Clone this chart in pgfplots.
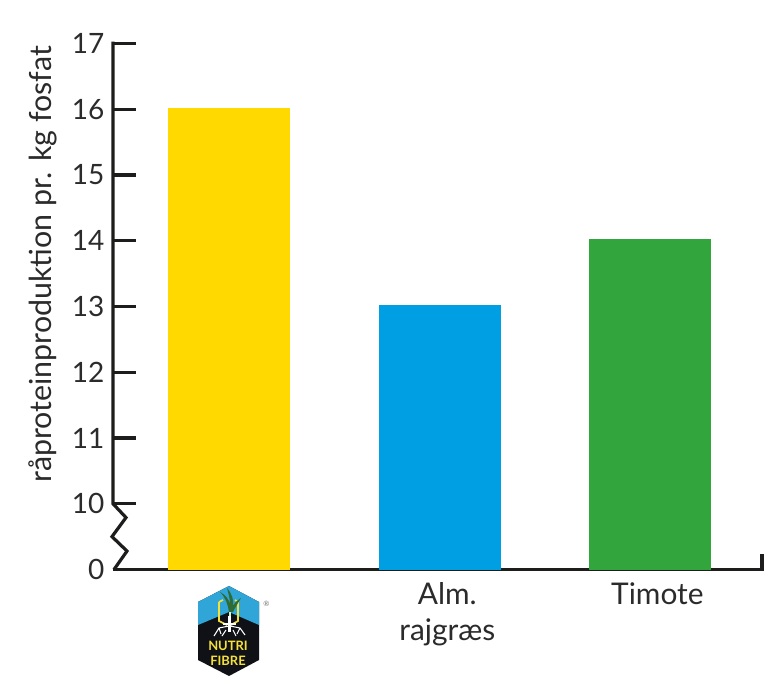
\documentclass[border=0pt]{standalone}
\usepackage{pgfplots}
\pgfplotsset{compat=1.18}
\usepackage{fontspec}
\setmainfont{Lato}
\definecolor{axc}{HTML}{1D1D1B}
\definecolor{txc}{HTML}{2B2B2B}
\definecolor{ybar}{HTML}{FFD900}
\definecolor{bbar}{HTML}{009FE3}
\definecolor{gbar}{HTML}{32A53C}
\definecolor{lblue}{HTML}{2FA5D8}
\definecolor{lblack}{HTML}{0F1116}
\definecolor{lyell}{HTML}{F5E03A}
\definecolor{lgreen}{HTML}{2F6B35}
\begin{document}
\begin{tikzpicture}
\begin{axis}[
  at={(0,0)},anchor=origin,
  scale only axis,
  width=486.75pt,
  height=394.5pt,
  xmin=113,xmax=762,
  ymin=9,ymax=17,
  clip=false,
  axis lines=left,
  axis line style={-,line width=2.4pt,color=axc},
  y axis line style={draw=none},
  xtick={229,440,650},
  xticklabels={{},{Alm.\\rajgræs},{Timote}},
  xticklabel style={align=center,font=\fontsize{22.4}{27}\selectfont,text=txc,yshift=-6pt,xshift=5.5pt},
  ytick={9,10,11,12,13,14,15,16,17},
  yticklabels={0,10,11,12,13,14,15,16,17},
  yticklabel style={font=\fontsize{21}{26}\selectfont,text=txc,xshift=-3pt},
  tick style={color=axc,line width=2.4pt},
  x tick style={draw=none},
  major tick length=0pt,
  tick align=inside,
  ylabel={råproteinproduktion pr. kg fosfat},
  ylabel style={font=\fontsize{22.8}{26}\selectfont,text=txc,at={(axis description cs:-0.108,0.58)},anchor=center,rotate=0},
  ybar,
  bar shift=0pt,
  bar width=91.5pt,
]
\addplot[fill=ybar,draw=none] coordinates {(229,16.02)};
\addplot[fill=bbar,draw=none] coordinates {(440,13.02)};
\addplot[fill=gbar,draw=none] coordinates {(650,14.02)};
\addplot[sharp plot,line width=2.4pt,color=axc,line cap=butt,line join=miter,bar shift=0pt]
  coordinates {(113,17.03)(113,10)(126,9.79)(112,9.50)(127,9.28)(114,9)};
\addplot[sharp plot,line width=2.4pt,color=axc] coordinates {(113,17)(136,17)};
\addplot[sharp plot,line width=2.4pt,color=axc] coordinates {(113,16)(136,16)};
\addplot[sharp plot,line width=2.4pt,color=axc] coordinates {(113,15)(136,15)};
\addplot[sharp plot,line width=2.4pt,color=axc] coordinates {(113,14)(136,14)};
\addplot[sharp plot,line width=2.4pt,color=axc] coordinates {(113,13)(136,13)};
\addplot[sharp plot,line width=2.4pt,color=axc] coordinates {(113,12)(136,12)};
\addplot[sharp plot,line width=2.4pt,color=axc] coordinates {(113,11)(136,11)};
\addplot[sharp plot,line width=2.4pt,color=axc] coordinates {(113,10)(136,10)};
\addplot[sharp plot,line width=2.4pt,color=axc] coordinates {(762,8.98)(762,9.24)};
\end{axis}
\begin{scope}[x=.75pt,y=-.75pt,shift={(-113,-569.5)}]
\path (0,0) rectangle (780,685);
% logo
\fill[lblack] (229,586)--(259,602)--(259,660)--(229,676)--(198,660)--(198,602)--cycle;
\fill[lblue] (229,586)--(259,602)--(259,625)--(229,612)--(198,625)--(198,602)--cycle;
\draw[lyell,line width=1.3pt] (219,602)--(223,600) (235,600)--(238,602)--(238,621)--(231,625) (227,625)--(219,621)--(219,602);
\fill[lgreen] (229,612) .. controls (228,605) and (226,598) .. (220,592) .. controls (226,595) and (229,600) .. (230,604) .. controls (230,598) and (228,592) .. (227,588) .. controls (232,594) and (234,600) .. (233,606) .. controls (235,602) and (238,600) .. (241,598) .. controls (238,603) and (235,608) .. (233,612) -- cycle;
\fill[white!80!green] (228.7,612) rectangle (231,619);
\draw[white,line width=1.6pt] (229.5,616)--(229.5,632);
\draw[white,line width=1.1pt] (223,624)--(236,624);
\draw[white,line width=.8pt] (229,626)--(219,628)--(214,636) (219,628)--(221,634) (230,626)--(240,628)--(245,635) (240,628)--(237,634) (226,630)--(222,636) (233,630)--(236,636);
\node[text=lyell,font=\fontsize{9.7}{11}\bfseries\selectfont,align=center,inner sep=0pt] at (228,653) {NUTRI\\FIBRE};
\node[text=black!55,font=\fontsize{5.5}{5.5}\selectfont,inner sep=0pt] at (266.5,604) {®};
\end{scope}
\end{tikzpicture}
\end{document}
